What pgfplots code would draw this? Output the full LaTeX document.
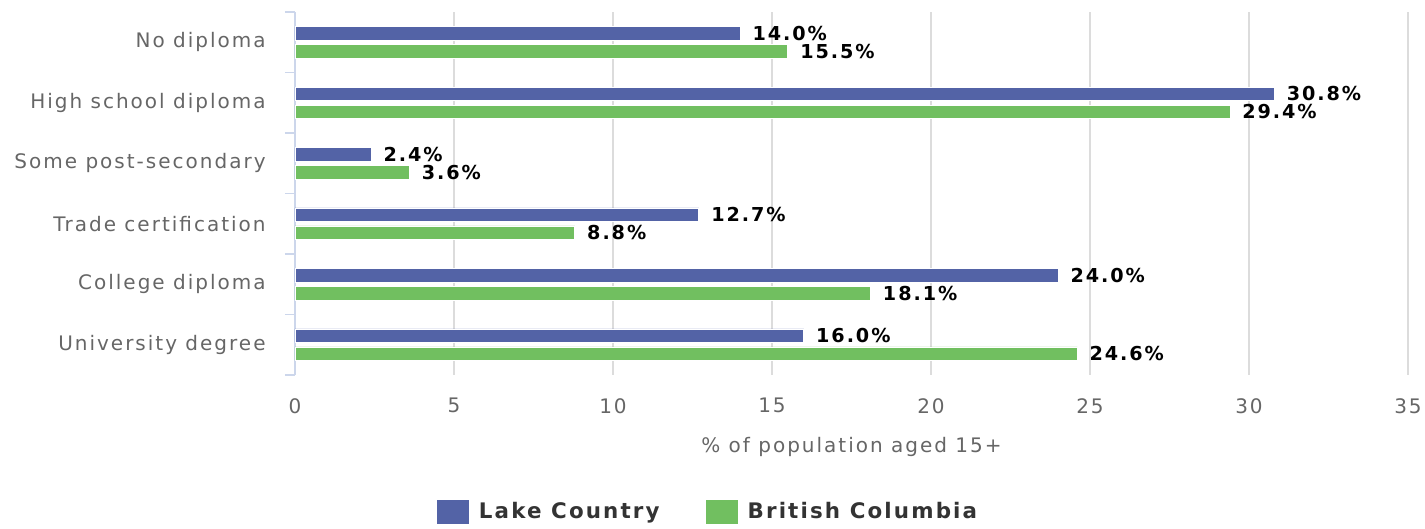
\documentclass[border=0pt]{standalone}
\usepackage{fontspec}
\setmainfont{DejaVu Sans}[LetterSpace=10]
\usepackage{pgfplots}
\usepackage{pgfplotstable}
\pgfplotsset{compat=1.18}

\definecolor{lcblue}{HTML}{5363A6}
\definecolor{bcgreen}{HTML}{71BF60}
\definecolor{axisline}{HTML}{CCD6EB}
\definecolor{gridc}{HTML}{DCDCDC}
\definecolor{txtgray}{HTML}{666666}
\definecolor{txtdark}{HTML}{333333}

% y: 5 = No diploma (top) ... 0 = University degree (bottom)
\pgfplotstableread{
y lc bc
5 14.0 15.5
4 30.8 29.4
3 2.4 3.6
2 12.7 8.8
1 24.0 18.1
0 16.0 24.6
}\edu

\begin{document}
\begin{tikzpicture}
\useasboundingbox (-147.5pt,-77pt) rectangle (565pt,187.5pt);
\begin{axis}[
    at={(0,0)}, anchor=south west,
    scale only axis,
    width=556.5pt, height=181.5pt,
    xmin=0, xmax=35, ymin=-0.5, ymax=5.5,
    enlargelimits=false,
    clip=false,
    /pgf/number format/assume math mode=true,
    axis x line*=bottom,
    axis y line*=left,
    x axis line style={draw=none},
    y axis line style={draw=axisline, line width=0.6pt},
    xtick={0,5,...,35},
    ytick={0,...,5},
    yticklabels={University degree, College diploma, Trade certification,
                 Some post-secondary, High school diploma, No diploma},
    minor ytick={-0.5,0.5,...,5.5},
    major tick length=0pt,
    minor tick length=5pt,
    tick align=outside,
    minor tick style={draw=axisline, line width=0.6pt},
    xmajorgrids,
    grid style={draw=gridc, line width=0.6pt},
    ticklabel style={font=\fontsize{10pt}{12pt}\selectfont, text=txtgray},
    yticklabel style={inner sep=0pt, xshift=-14.5pt},
    xticklabel style={inner sep=0pt, yshift=-11.5pt},
    xlabel={\% of population aged 15+},
    xlabel style={at={(axis description cs:0.5,-0.198)}, anchor=center,
        font=\fontsize{10pt}{12pt}\selectfont, text=txtgray},
    legend columns=2,
    legend style={at={(0.372,-0.377)}, anchor=center, draw=none, fill=none,
        font=\fontsize{10.7pt}{12pt}\selectfont\bfseries, text=txtdark,
        /tikz/every even column/.style={column sep=21pt}},
    legend cell align=left,
    nodes near coords={\pgfmathprintnumber[fixed,fixed zerofill,precision=1]{\pgfplotspointmeta}\%},
    point meta=x,
    every node near coord/.style={anchor=west, inner sep=0pt, xshift=6pt,
        font=\fontsize{9.6pt}{11pt}\selectfont\bfseries, text=black},
]
\addplot[xbar, bar width=6.75pt, bar shift=4.5pt, fill=lcblue, draw=white, line width=0.4pt,
    every node near coord/.append style={yshift=4.5pt},
    legend image code/.code={\fill[lcblue, draw=none] (0pt,-6pt) rectangle (16pt,6pt);
        \path[draw=none, fill=none] (0pt,0pt) -- (19pt,0pt);}]
    table[x=lc, y=y] {\edu};
\addplot[xbar, bar width=6.75pt, bar shift=-4.5pt, fill=bcgreen, draw=white, line width=0.4pt,
    every node near coord/.append style={yshift=-4.5pt},
    legend image code/.code={\fill[bcgreen, draw=none] (0pt,-6pt) rectangle (16pt,6pt);
        \path[draw=none, fill=none] (0pt,0pt) -- (19pt,0pt);}]
    table[x=bc, y=y] {\edu};
\legend{Lake Country, British Columbia}
\end{axis}
\end{tikzpicture}
\end{document}
